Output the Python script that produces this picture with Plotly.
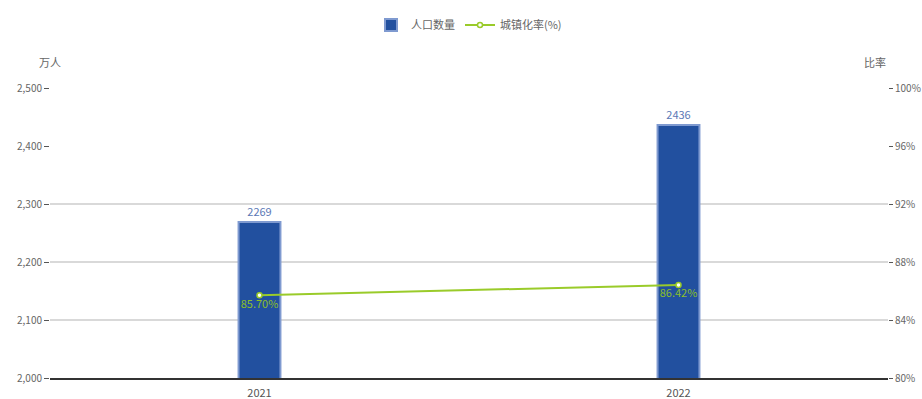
import plotly.graph_objects as go

years = ["2021", "2022"]
population = [2269, 2436]
urban_rate = [85.70, 86.42]
grid_vals = [2100, 2200, 2300]

fig = go.Figure()
fig.add_trace(go.Bar(
    x=years, y=population, name="人口数量", yaxis="y",
    marker=dict(color="#22509f", line=dict(color="#7f9ad0", width=2)),
    width=0.1, text=[str(v) for v in population], textposition="outside",
    textfont=dict(color="#5b78b5", size=11), cliponaxis=False,
))
fig.add_trace(go.Scatter(
    x=years, y=urban_rate, name="城镇化率(%)", yaxis="y2",
    mode="lines+markers+text",
    line=dict(color="#9acb2a", width=2),
    marker=dict(color="#ffffff", size=5, line=dict(color="#9acb2a", width=1.5)),
    text=[f"{v:.2f}%" for v in urban_rate], textposition="bottom center",
    textfont=dict(color="#8cbf2a", size=11),
))
for g in grid_vals:
    fig.add_shape(type="line", xref="paper", x0=0, x1=1, yref="y", y0=g, y1=g,
                  line=dict(color="#d9d9d9", width=2), layer="below")

fig.update_layout(
    width=922, height=399,
    margin=dict(l=50, r=34, t=88, b=21, autoexpand=False),
    paper_bgcolor="white", plot_bgcolor="white",
    font=dict(family="Noto Sans CJK SC, sans-serif", size=11, color="#666"),
    showlegend=True,
    legend=dict(orientation="h", x=0.5, xanchor="center", yref="container",
                y=1 - 25 / 399, yanchor="middle",
                font=dict(size=11, color="#666")),
    bargap=0.9,
    xaxis=dict(showline=True, linecolor="#333", linewidth=2, ticks="",
               ticklabelstandoff=4, tickfont=dict(size=11, color="#555")),
    yaxis=dict(range=[2000, 2500], dtick=100, showgrid=False, zeroline=False,
               ticks="outside", ticklen=5, tickcolor="#555", tickformat=",",
               tickfont=dict(size=10, color="#666")),
    yaxis2=dict(range=[80, 100], dtick=4, overlaying="y", side="right",
                showgrid=False, zeroline=False, ticksuffix="%",
                ticks="outside", ticklen=4, tickcolor="#555",
                tickfont=dict(size=10, color="#666")),
    annotations=[
        dict(text="万人", xref="paper", yref="paper", x=0.0, y=1.09, showarrow=False,
             xanchor="center", yanchor="middle", font=dict(size=11, color="#666")),
        dict(text="比率", xref="paper", yref="paper", x=1.0, y=1.09, showarrow=False,
             xanchor="right", yanchor="middle", font=dict(size=11, color="#666")),
    ],
)
fig.write_html(
    "out.html",
    config={"displayModeBar": False},
    post_script="document.body.style.margin='0';document.body.style.overflow='hidden';",
)
